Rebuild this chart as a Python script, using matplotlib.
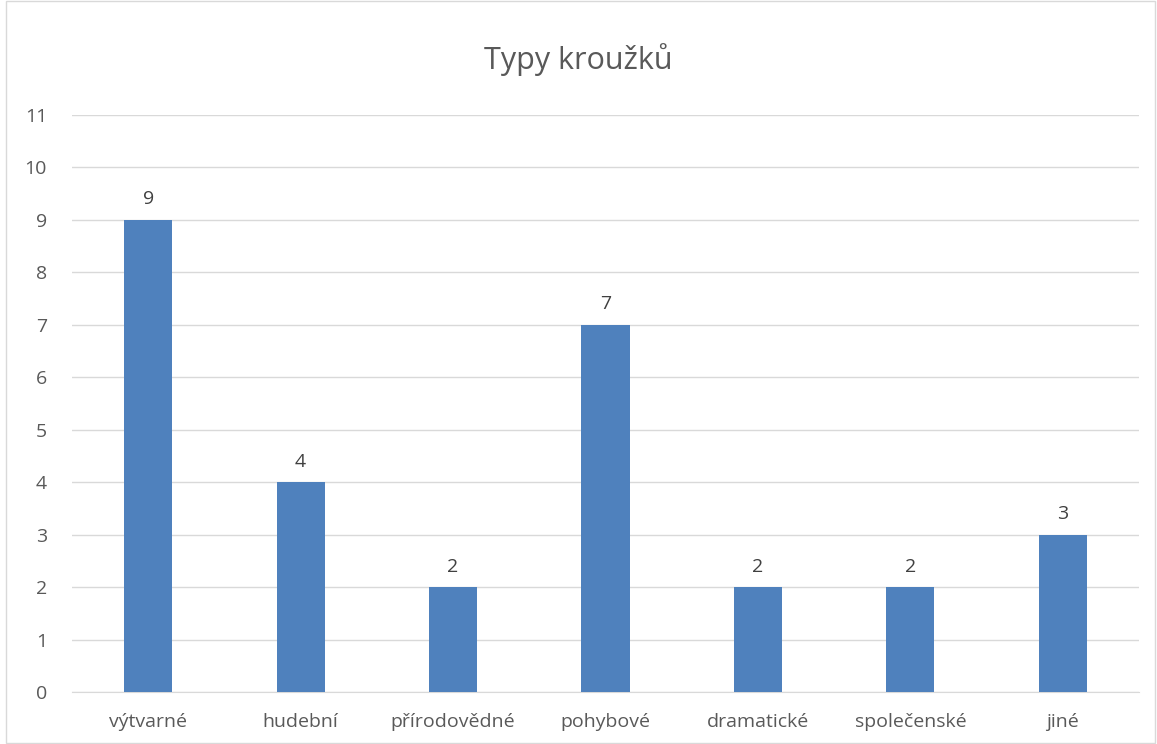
import matplotlib.pyplot as plt
from matplotlib.patches import Rectangle

categories = ['výtvarné', 'hudební', 'přírodovědné', 'pohybové',
              'dramatické', 'společenské', 'jiné']
counts = [9, 4, 2, 7, 2, 2, 3]

plt.rcParams['font.family'] = ['Open Sans', 'DejaVu Sans']

fig = plt.figure(figsize=(11.57, 7.44), dpi=100)
ax = fig.add_axes([72 / 1157, 1 - 692 / 744, (1139 - 72) / 1157, (692 - 115) / 744])

x = list(range(len(categories)))
bars = ax.bar(x, counts, width=0.315, color='#4F81BD', zorder=3)
for xi, v in zip(x, counts):
    ax.text(xi, v + 0.22, str(v), ha='center', va='bottom',
            fontsize=14, color='#404040')

ax.set_xlim(-0.5, len(categories) - 0.5)
ax.set_ylim(0, 11)
ax.set_yticks(range(0, 12))
ax.set_xticks(x)
ax.set_xticklabels(categories)
ax.tick_params(axis='both', length=0, labelsize=14, labelcolor='#595959')
ax.tick_params(axis='y', pad=18)
ax.tick_params(axis='x', pad=15)
ax.grid(axis='y', color='#D9D9D9', linewidth=1, zorder=0)
for side in ['top', 'right', 'left']:
    ax.spines[side].set_visible(False)
ax.spines['bottom'].set_color('#D9D9D9')

fig.text(0.5, 1 - 60 / 744, 'Typy kroužků', ha='center', va='center',
         fontsize=22, color='#595959')

fig.patches.append(Rectangle((0.005, 0.002), 0.993, 0.996, transform=fig.transFigure,
                             fill=False, edgecolor='#D9D9D9', linewidth=1))

plt.savefig('out.png', dpi=100)
